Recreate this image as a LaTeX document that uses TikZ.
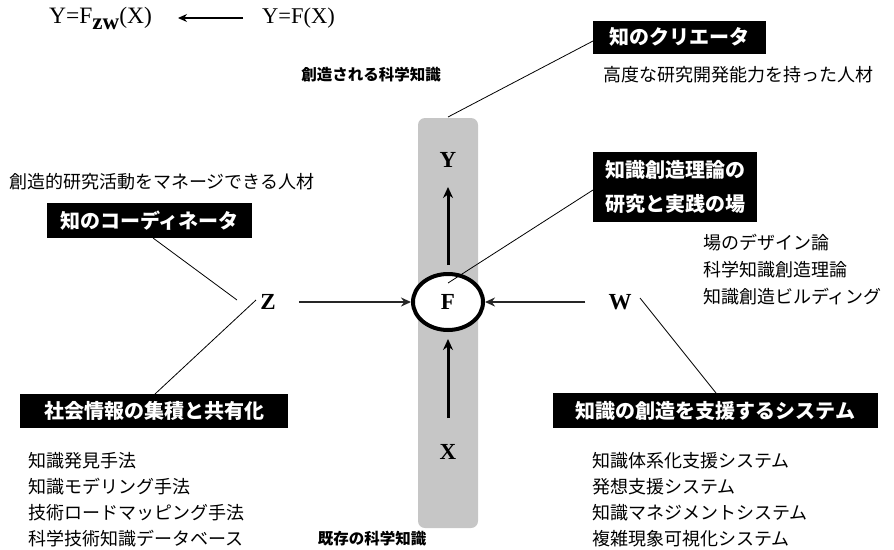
\documentclass[tikz,border=0pt]{standalone}
\usepackage{fontspec}
\setmainfont{Liberation Serif}
\newfontfamily\jp{Noto Sans CJK JP}
\usetikzlibrary{arrows.meta,shapes.geometric}
\tikzset{
  jtext/.style={font=\jp\fontsize{18}{21}\selectfont, inner sep=0pt},
  jbold/.style={font=\jp\bfseries\fontsize{15.5}{19}\selectfont, inner sep=0pt},
  blackbox/.style={fill=black, text=white, font=\jp\bfseries\fontsize{20}{30}\selectfont, inner sep=0pt, align=center},
  letter/.style={font=\bfseries\fontsize{23}{25}\selectfont, inner sep=1pt},
  leader/.style={draw=black, line width=0.8pt},
  bigarrow/.style={draw=black, line width=3pt, -{Stealth[length=11pt,width=10pt]}},
  sidearrow/.style={draw=black!85, line width=2.6pt, -{Stealth[length=10pt,width=9pt]}},
}
\begin{document}
\begin{tikzpicture}[x=1pt,y=-1pt]
\useasboundingbox (0,0) rectangle (894,549);
% formulas
\node[anchor=west, font=\fontsize{23.5}{26}\selectfont, inner sep=0pt] (fzw) at (49,18) {Y=F\raisebox{-6pt}{\textbf{\fontsize{23}{24}\selectfont zw}}(X)};
\node[anchor=west, font=\fontsize{22.5}{26}\selectfont, inner sep=0pt] (fx) at (262,18) {Y=F(X)};
\coordinate (fatail) at (243,18);
\coordinate (fatip) at (178,18);
\draw[line width=1.3pt, -{Stealth[length=9pt,width=8pt]}] (fatail) -- (fatip);
% band
\fill[gray!45, rounded corners=7pt] (418,118) rectangle (478,528);
% central nodes
\node[draw=black, line width=4pt, fill=white, ellipse, minimum width=70pt, minimum height=56pt, inner sep=0pt, font=\bfseries\fontsize{23}{25}\selectfont] (F) at (448,302) {F};
\node[letter] (Y) at (448,160) {Y};
\node[letter] (X) at (448,452) {X};
\node[letter] (Z) at (268,302) {Z};
\node[letter] (W) at (620,302) {W};
\coordinate (yarrowtail) at (448,265);
\coordinate (yarrowtip) at (448,187);
\coordinate (xarrowtail) at (448,418);
\coordinate (xarrowtip) at (448,339);
\draw[bigarrow] (yarrowtail) -- (yarrowtip);
\draw[bigarrow] (xarrowtail) -- (xarrowtip);
\draw[sidearrow] ([xshift=22pt]Z.east) -- (F.west);
\draw[sidearrow] ([xshift=-22pt]W.west) -- (F.east);
% texts
\node[jbold] (create) at (371,75) {創造される科学知識};
\node[jbold] (exist) at (372,539) {既存の科学知識};
\node[blackbox, minimum width=173pt, minimum height=33pt] (creator) at (679,37) {知のクリエータ};
\node[jtext, anchor=west] (creatortxt) at (603,75) {高度な研究開発能力を持った人材};
\node[jtext, anchor=west] (coordtxt) at (9,182) {創造的研究活動をマネージできる人材};
\node[blackbox, minimum width=205pt, minimum height=35pt] (coord) at (149.5,220.5) {知のコーディネータ};
\node[blackbox, minimum width=164pt, minimum height=70pt, font=\jp\bfseries\fontsize{20}{34}\selectfont] (place) at (675,187) {知識創造理論の\\研究と実践の場};
\node[jtext, anchor=west] (p1) at (703,243) {場のデザイン論};
\node[jtext, anchor=west] (p2) at (703,270) {科学知識創造理論};
\node[jtext, anchor=west] (p3) at (703,297) {知識創造ビルディング};
\node[blackbox, minimum width=268pt, minimum height=34pt] (social) at (154,411) {社会情報の集積と共有化};
\node[blackbox, minimum width=325pt, minimum height=35pt] (support) at (715.5,410.5) {知識の創造を支援するシステム};
\node[jtext, anchor=west] (l1) at (28,461) {知識発見手法};
\node[jtext, anchor=west] (l2) at (28,487) {知識モデリング手法};
\node[jtext, anchor=west] (l3) at (28,513) {技術ロードマッピング手法};
\node[jtext, anchor=west] (l4) at (28,539) {科学技術知識データベース};
\node[jtext, anchor=west] (r1) at (592,461) {知識体系化支援システム};
\node[jtext, anchor=west] (r2) at (592,487) {発想支援システム};
\node[jtext, anchor=west] (r3) at (592,513) {知識マネジメントシステム};
\node[jtext, anchor=west] (r4) at (592,539) {複雑現象可視化システム};
% leader lines
\coordinate (bandtop) at (448,117);
\coordinate (creatorend) at (593,41);
\coordinate (ftop) at (448,283);
\coordinate (placeend) at (593,190);
\coordinate (coordend) at (153,238);
\coordinate (zl) at (237,300);
\coordinate (zr) at (256,300);
\coordinate (socialend) at (155,394);
\coordinate (wr) at (640,298);
\coordinate (supportend) at (716,393);
\draw[leader] (bandtop) -- (creatorend);
\draw[leader] (ftop) -- (placeend);
\draw[leader] (coordend) -- (zl);
\draw[leader] (zr) -- (socialend);
\draw[leader] (wr) -- (supportend);
\end{tikzpicture}
\end{document}
